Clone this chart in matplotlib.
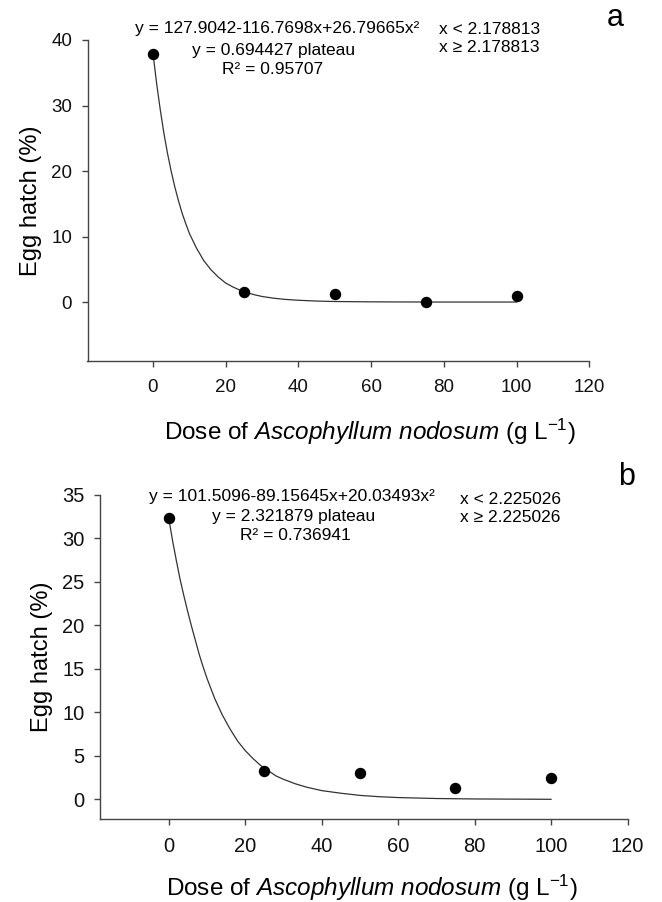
import matplotlib
matplotlib.use("Agg")
import matplotlib.pyplot as plt

plt.rcParams["font.family"] = ["Liberation Sans", "DejaVu Sans"]
plt.rcParams["mathtext.fontset"] = "custom"
plt.rcParams["mathtext.rm"] = "Liberation Sans"
plt.rcParams["mathtext.it"] = "Liberation Sans:italic"

# observed points
dose = [0, 25, 50, 75, 100]
hatch_a = [37.9, 1.6, 1.2, 0.0, 0.9]
hatch_b = [32.3, 3.3, 3.0, 1.3, 2.5]

# fitted curves
curve_x_a = [0, 1, 2, 3, 4, 5, 6, 7, 8, 9, 10, 12, 14, 16, 18, 20, 22, 24, 26, 28, 30, 33, 36, 40, 45, 50, 60, 70, 80, 90, 100]
curve_y_a = [38.0, 33.4, 29.4, 25.8, 22.7, 20.0, 17.6, 15.5, 13.6, 12.0, 10.5, 8.2, 6.3, 4.9, 3.8, 2.9, 2.3, 1.8, 1.4, 1.1, 0.85, 0.6, 0.42, 0.27, 0.15, 0.08, 0.03, 0.01, 0.0, 0.0, 0.0]
curve_x_b = [0, 1, 2, 3, 4, 5, 6, 7, 8, 9, 10, 12, 14, 16, 18, 20, 22, 24, 26, 28, 30, 33, 36, 40, 45, 50, 55, 60, 70, 80, 90, 100]
curve_y_b = [32.3, 29.7, 27.4, 25.2, 23.3, 21.5, 19.8, 18.2, 16.6, 15.2, 13.9, 11.6, 9.7, 8.1, 6.7, 5.6, 4.7, 3.9, 3.3, 2.7, 2.3, 1.8, 1.4, 1.0, 0.7, 0.45, 0.3, 0.2, 0.09, 0.04, 0.02, 0.0]

eq_a = ["y = 127.9042-116.7698x+26.79665x²", "y = 0.694427 plateau", "R² = 0.95707"]
cond_a = ["x < 2.178813", "x ≥ 2.178813"]
eq_b = ["y = 101.5096-89.15645x+20.03493x²", "y = 2.321879 plateau", "R² = 0.736941"]
cond_b = ["x < 2.225026", "x ≥ 2.225026"]

W, H = 662, 902
XLABEL = r"Dose of $\mathit{Ascophyllum\ nodosum}$ (g L$^{\mathregular{-1}}$)"
EQ_SIZE = 12.5


def px(x, y):
    return x / W, 1 - y / H


def setup_axes(ax, yticks, ylim, tick_size):
    for s in ["top", "right"]:
        ax.spines[s].set_visible(False)
    for s in ["left", "bottom"]:
        ax.spines[s].set_color("#444444")
        ax.spines[s].set_linewidth(1.0)
    ax.set_xlim(-18, 120)
    ax.set_ylim(*ylim)
    ax.set_xticks([0, 20, 40, 60, 80, 100, 120])
    ax.set_yticks(yticks)
    ax.tick_params(axis="both", direction="out", length=4, width=1.0,
                   color="#444444", labelsize=tick_size, labelcolor="#111111")
    ax.tick_params(axis="y", pad=7)
    ax.tick_params(axis="x", pad=9)


fig = plt.figure(figsize=(6.62, 9.02), dpi=100)

# panel a
ax1 = fig.add_axes([87.5 / W, 1 - 361 / H, 501.8 / W, 321 / H])
ax1.plot(curve_x_a, curve_y_a, color="#333333", lw=0.9)
ax1.scatter(dose, hatch_a, s=52, color="black", zorder=3)
setup_axes(ax1, [0, 10, 20, 30, 40], (-9, 40), 13.5)
ax1.set_ylabel("Egg hatch (%)", fontsize=17, labelpad=7)
fig.text(*px(370, 432), XLABEL, fontsize=17.5, ha="center", va="center")
fig.text(*px(277, 29), eq_a[0], fontsize=EQ_SIZE, ha="center", va="center")
fig.text(*px(274, 50), eq_a[1], fontsize=EQ_SIZE, ha="center", va="center")
fig.text(*px(273, 70), eq_a[2], fontsize=EQ_SIZE, ha="center", va="center")
fig.text(*px(439, 29), cond_a[0], fontsize=EQ_SIZE, ha="left", va="center")
fig.text(*px(439, 48), cond_a[1], fontsize=EQ_SIZE, ha="left", va="center")
fig.text(*px(615, 18), "a", fontsize=22, ha="center", va="center")

# panel b
ax2 = fig.add_axes([100 / W, 1 - 819.3 / H, 527.5 / W, 324.3 / H])
ax2.plot(curve_x_b, curve_y_b, color="#333333", lw=0.9)
ax2.scatter(dose, hatch_b, s=52, color="black", zorder=3)
setup_axes(ax2, [0, 5, 10, 15, 20, 25, 30, 35], (-2.3, 35), 14.5)
ax2.set_ylabel("Egg hatch (%)", fontsize=17, labelpad=7)
fig.text(*px(372, 888), XLABEL, fontsize=17.5, ha="center", va="center")
fig.text(*px(292, 497), eq_b[0], fontsize=EQ_SIZE, ha="center", va="center")
fig.text(*px(294, 516), eq_b[1], fontsize=EQ_SIZE, ha="center", va="center")
fig.text(*px(295, 535), eq_b[2], fontsize=EQ_SIZE, ha="center", va="center")
fig.text(*px(460, 500), cond_b[0], fontsize=EQ_SIZE, ha="left", va="center")
fig.text(*px(460, 518), cond_b[1], fontsize=EQ_SIZE, ha="left", va="center")
fig.text(*px(627, 477), "b", fontsize=22, ha="center", va="center")

fig.savefig("out.png", dpi=100)
